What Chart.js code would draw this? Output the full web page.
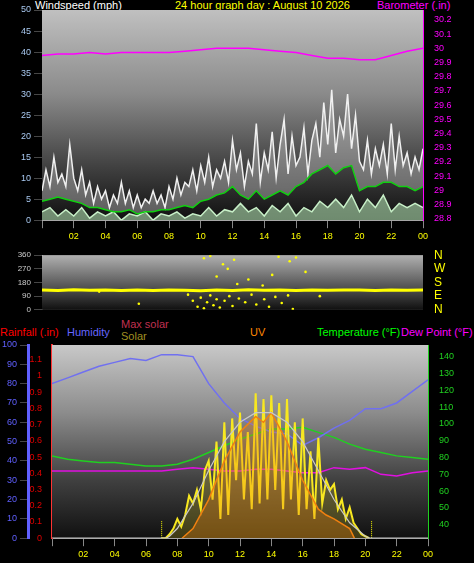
<!DOCTYPE html>
<html><head><meta charset="utf-8">
<script src="https://cdn.jsdelivr.net/npm/chart.js@4"></script>
<style>
body{margin:0;background:#000;width:474px;height:563px;overflow:hidden;position:relative;font-family:"Liberation Sans",Arial,sans-serif}
.b{position:absolute}
.t{position:absolute;font-size:11px;white-space:nowrap;line-height:11px}
</style></head><body>
<div class="t" style="left:35px;top:0;color:#fff">Windspeed (mph)</div>
<div class="t" style="left:175px;top:0;color:#ff0">24 hour graph day : August 10 2026</div>
<div class="t" style="left:377px;top:0;color:#f0f">Barometer (.in)</div>
<div class="t" style="left:0;top:327px;color:#f00">Rainfall (.in)</div>
<div class="t" style="left:67px;top:327px;color:#66f">Humidity</div>
<div class="t" style="left:121px;top:319px;color:#c03050">Max solar</div>
<div class="t" style="left:121px;top:331px;color:#a09020">Solar</div>
<div class="t" style="left:250px;top:327px;color:#f80">UV</div>
<div class="t" style="left:317px;top:327px;color:#0f0">Temperature (°F)</div>
<div class="t" style="left:401px;top:327px;color:#f0f">Dew Point (°F)</div>
<div class="b" style="left:0;top:0;width:474px;height:245px"><canvas id="c1"></canvas></div>
<div class="b" style="left:0;top:245px;width:474px;height:75px"><canvas id="c2"></canvas></div>
<div class="b" style="left:0;top:320px;width:474px;height:243px"><canvas id="c3"></canvas></div>
<script>
const hours=[...Array(25).keys()];
const half=[...Array(49).keys()].map(i=>i/2);
const quarter=[...Array(97).keys()].map(i=>i/4);
const hourLabels=['00','02','04','06','08','10','12','14','16','18','20','22','00'];
// Wind
const windGust=[7,12,8,15,9, 11,8,18,10, 7,12,6,9, 4,8,5,7, 3,6,4,9, 4,7,3,6, 3,5,4,7, 4,6,3,8, 5,10,6,9, 8,12,7,13, 9,15,8,12, 10,14,9,19, 12,16,8,14, 11,23,9,16, 12,21,10,18, 24,11,20,13, 15,22,11,19, 23,15,28,18, 31,16,24,20, 30,17,25,14, 12,19,11,17, 13,18,11,23, 12,20,13,16, 11,15,12,17];
const windAvg=[4.5,5,5.5,5,4.5,4,3,3,2.5,2,2,2.5,1.5,2,2,2.5,2.5,3,3.5,3,4.5,5,6,6.5,8,6,5,7,5,6,7,6,8,9,11,12,13,11,12.5,13,7,8,8,9,9,8,8,7,8];
const windSpeed=[2,3,1,2.5,1,3,0.5,2,1,2,0,1.5,1,2,0,1.5,1,2,0.5,1.5,1,3,1,2.5,2,4,2,3,1,3.5,2,4,1,3,2,4.5,3,5,3,6,2,5,3,6,2,4,3,4,3];
const baro=[29.95,29.96,29.96,29.97,29.96,29.97,29.97,29.97,29.97,29.98,29.99,30.0,30.0,30.0,29.99,29.98,29.97,29.95,29.93,29.93,29.92,29.92,29.95,29.98,30.0];
// Direction
const dirMain=[130,128,132,129,131,128,130,127,131,129,126,130,128,132,129,131,128,130,129,131,130,128,131,129,130];
const dirScatter=[{x:3.6,y:120},{x:6.1,y:40},{x:9.2,y:100},{x:9.5,y:60},{x:9.8,y:20},{x:10.0,y:80},{x:10.2,y:10},{x:10.4,y:50},{x:10.6,y:95},{x:10.8,y:30},{x:11.0,y:70},{x:11.2,y:15},{x:11.5,y:60},{x:11.8,y:90},{x:12.0,y:25},{x:12.4,y:75},{x:12.8,y:50},{x:13.2,y:100},{x:13.5,y:35},{x:14.0,y:70},{x:14.3,y:20},{x:14.7,y:85},{x:15.1,y:45},{x:15.5,y:95},{x:15.8,y:5},{x:10.2,y:340},{x:10.6,y:355},{x:11.4,y:300},{x:12.1,y:330},{x:14.9,y:350},{x:15.6,y:320},{x:16.0,y:345},{x:11.0,y:220},{x:13.0,y:200},{x:12.3,y:170},{x:13.9,y:160},{x:14.5,y:230},{x:17.5,y:90},{x:16.6,y:250},{x:11.7,y:270}];
// Bottom
const humidity=[80,83,86,89,91,93,92,95,95,94,80,70,62,58,55,54,48,52,57,61,67,67,70,76,82];
const temperature=[81,79,78,77,77,76,75,75,76,79,83,87,91,94,97,97,98,95,92,88,85,83,81,80,79];
const dewPoint=[72,72,72,72,72,72,72,72,73,74,73,72,72,73,73,72,71,71,74,73,74,70,69,71,72];
const rainfall=hours.map(()=>0);
const maxSolar=[{x:0,y:0},{x:7.3,y:0},{x:7.5,y:1},{x:8,y:5},{x:9,y:18},{x:10,y:35},{x:11,y:50},{x:12,y:60},{x:13,y:65},{x:14,y:65},{x:15,y:60},{x:16,y:50},{x:17,y:35},{x:18,y:20},{x:19,y:8},{x:20,y:1},{x:20.3,y:0},{x:24,y:0}];
const solarT=[7,7.25,7.5,7.75,8,8.25,8.5,8.75,9,9.25,9.5,9.75,10,10.25,10.5,10.75,11,11.25,11.5,11.75,12,12.25,12.5,12.75,13,13.25,13.5,13.75,14,14.25,14.5,14.75,15,15.25,15.5,15.75,16,16.25,16.5,16.75,17,17.25,17.5,17.75,18,18.25,18.5,18.75,19,19.25,19.5,19.75,20,20.25];
const solarV=[0,0,2,5,10,6,12,22,18,25,15,35,40,20,50,10,60,12,62,30,65,20,55,15,75,18,72,20,74,25,70,15,72,20,60,12,62,15,45,10,52,18,30,25,28,15,20,10,16,8,5,2,1,0];
const uv=[{x:8.3,y:0},{x:9,y:5},{x:10,y:20},{x:11,y:40},{x:12,y:55},{x:13,y:63},{x:13.5,y:60},{x:14,y:65},{x:15,y:50},{x:16,y:30},{x:17,y:15},{x:17.5,y:12},{x:18,y:10},{x:19,y:5},{x:19.3,y:0}];
const sunMarks=[[{x:7,y:0},{x:7,y:9}],[{x:20.4,y:0},{x:20.4,y:9}]];

const bg={id:'bg',beforeDatasetsDraw(c,a,o){const {ctx,chartArea:ca}=c;const g=ctx.createLinearGradient(0,ca.top,0,ca.bottom);o.stops.forEach(s=>g.addColorStop(s[0],s[1]));ctx.save();ctx.fillStyle=g;ctx.fillRect(ca.left,ca.top,ca.width,ca.height);ctx.restore();}};
Chart.register(bg);
Chart.defaults.font.family='"Liberation Sans",Arial,sans-serif';
Chart.defaults.font.size=9;
Chart.defaults.animation=false;
Chart.defaults.maintainAspectRatio=false;
Chart.defaults.plugins.legend.display=false;
Chart.defaults.plugins.tooltip.enabled=false;
const grid={color:'rgba(200,200,200,0.35)',borderDash:[1,2]};
function xAxis(){return {type:'linear',min:0,max:24,ticks:{stepSize:2,color:'#ff0',callback:v=>v===0?'':hourLabels[v/2]},grid:{...grid,drawTicks:true,tickColor:'#888'},border:{color:'#ccc'}};}
const fix=w=>function(s){s.width=w;};

new Chart(c1,{type:'line',data:{datasets:[
 {data:windAvg.map((v,i)=>({x:half[i],y:v})),borderColor:'#10d010',borderWidth:1.5,pointRadius:0,yAxisID:'y'},
 {data:windSpeed.map((v,i)=>({x:half[i],y:v})),borderColor:'#c8f0c8',backgroundColor:'rgba(190,240,190,0.55)',fill:'origin',borderWidth:1.5,pointRadius:0,yAxisID:'y'},
 {data:windGust.map((v,i)=>({x:quarter[i],y:v})),borderColor:'#f0f0f0',backgroundColor:'rgba(230,230,230,0.35)',fill:0,borderWidth:1.5,pointRadius:0,yAxisID:'y'},
 {data:baro.map((v,i)=>({x:hours[i],y:v})),borderColor:'#f0f',borderWidth:1.5,pointRadius:0,yAxisID:'y1'}
]},options:{layout:{padding:{top:10}},scales:{x:xAxis(),
 y:{min:0,max:50,ticks:{stepSize:5,color:'#a8c8f0'},grid:grid,afterFit:fix(42),border:{color:'#ccc'}},
 y1:{position:'right',min:28.79,max:30.27,afterBuildTicks:s=>{s.ticks=[28.8,28.9,29,29.1,29.2,29.3,29.4,29.5,29.6,29.7,29.8,29.9,30,30.1,30.2].map(v=>({value:v}));},ticks:{color:'#f0f',callback:v=>+v.toFixed(1)},grid:{display:false},afterFit:fix(51),border:{color:'#f0f'}}},
 plugins:{bg:{stops:[[0,'#c0c0c0'],[0.4,'#8a8a8a'],[0.75,'#404040'],[1,'#101010']]}}}});

new Chart(c2,{type:'line',data:{datasets:[
 {data:dirMain.map((v,i)=>({x:hours[i],y:v})),borderColor:'#ff0',borderWidth:3,pointRadius:0,yAxisID:'y'},
 {type:'scatter',data:dirScatter,backgroundColor:'#ff0',borderWidth:0,pointRadius:1.3,yAxisID:'y'}
]},options:{layout:{padding:{top:3,bottom:4}},scales:{x:{type:'linear',min:0,max:24,display:false},
 y:{min:0,max:360,ticks:{stepSize:90,color:'#ccc',font:{size:8}},grid:grid,afterFit:fix(42),border:{color:'#ccc'}},
 y1:{position:'right',min:0,max:360,ticks:{stepSize:90,autoSkip:false,color:'#ff0',font:{size:12},callback:v=>({0:'N',90:'E',180:'S',270:'W',360:'N'})[v]},grid:{display:false},afterFit:fix(51),border:{display:false}}},
 plugins:{bg:{stops:[[0,'#b0b0b0'],[0.5,'#606060'],[1,'#101010']]}}}});

new Chart(c3,{type:'line',data:{datasets:[
 {data:maxSolar,borderColor:'#c8c8c8',borderWidth:1.2,pointRadius:0,yAxisID:'h'},
 {data:uv,borderColor:'#f08010',backgroundColor:'rgba(240,128,16,0.3)',fill:'origin',borderWidth:1.5,pointRadius:0,yAxisID:'h'},
 {data:solarV.map((v,i)=>({x:solarT[i],y:v})),borderColor:'#f8e820',backgroundColor:'rgba(250,230,40,0.2)',fill:'origin',borderWidth:2,pointRadius:0,yAxisID:'h'},
 {data:humidity.map((v,i)=>({x:hours[i],y:v})),borderColor:'#7070f0',borderWidth:1.5,pointRadius:0,yAxisID:'h'},
 {data:temperature.map((v,i)=>({x:hours[i],y:v})),borderColor:'#20d020',borderWidth:1.5,pointRadius:0,yAxisID:'t'},
 {data:dewPoint.map((v,i)=>({x:hours[i],y:v})),borderColor:'#e010e0',borderWidth:1.5,pointRadius:0,yAxisID:'t'},
 {data:sunMarks[0],borderColor:'#ff0',borderDash:[1,1],borderWidth:1,pointRadius:0,yAxisID:'h'},
 {data:sunMarks[1],borderColor:'#ff0',borderDash:[1,1],borderWidth:1,pointRadius:0,yAxisID:'h'},
 {data:rainfall.map((v,i)=>({x:hours[i],y:v})),borderColor:'#f00',borderWidth:3,pointRadius:0,yAxisID:'r'}
]},options:{layout:{padding:{top:25}},scales:{x:xAxis(),
 r:{position:'left',min:0,max:1.19,afterBuildTicks:s=>{s.ticks=[0,0.1,0.2,0.3,0.4,0.5,0.6,0.7,0.8,0.9,1,1.1].map(v=>({value:v}));},ticks:{color:'#e00000',padding:2,callback:v=>+v.toFixed(1)},grid:{display:false},afterFit:fix(24),border:{color:'#f33',dash:[2,1],width:2}},
 h:{position:'left',min:0,max:100,ticks:{stepSize:10,color:'#6060ff'},grid:grid,afterFit:fix(28),border:{color:'#6060ff',width:3}},
 t:{position:'right',min:32,max:147,afterBuildTicks:s=>{s.ticks=[40,50,60,70,80,90,100,110,120,130,140].map(v=>({value:v}));},ticks:{color:'#20d020'},grid:{display:false},afterFit:fix(46),border:{color:'#20d020'}}},
 plugins:{bg:{stops:[[0,'#c8c8c8'],[0.35,'#8c8c8c'],[0.7,'#404040'],[1,'#101010']]}}}});
</script></body></html>
